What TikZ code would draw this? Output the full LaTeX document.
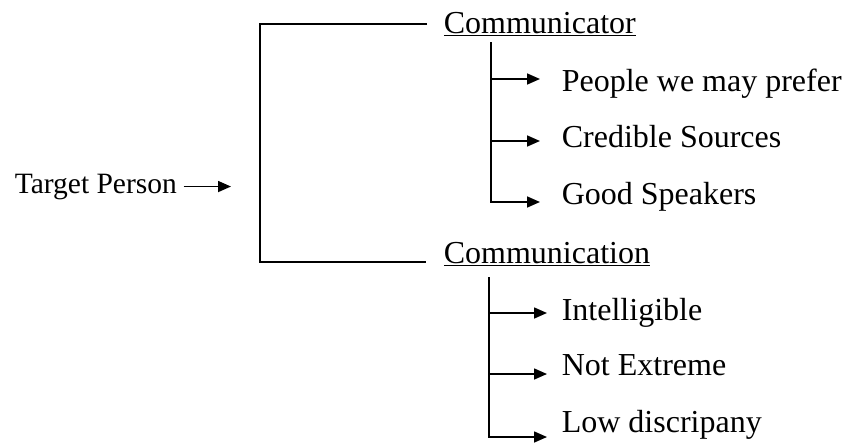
\documentclass[tikz,border=0pt]{standalone}
\usepackage{fontspec}
\setmainfont{Liberation Serif}
\usetikzlibrary{arrows.meta}
\begin{document}
\begin{tikzpicture}[x=1pt,y=-1pt,line width=1.6pt,
  lbl/.style={anchor=base west,inner sep=0pt,font=\fontsize{32}{38}\selectfont},
  arr/.style={-{Triangle[length=13pt,width=11pt]}}]
\useasboundingbox (0,0) rectangle (843,442);
% labels
\node[lbl,font=\fontsize{29.5}{35}\selectfont] (tp) at (14,193) {Target Person};
\node[lbl] (cr) at (443,33) {\underline{Communicator}};
\node[lbl] (ca) at (443,263) {\underline{Communication}};
\node[lbl] (p1) at (561,91) {People we may prefer};
\node[lbl] (p2) at (561,147) {Credible Sources};
\node[lbl] (p3) at (561,204) {Good Speakers};
\node[lbl] (q1) at (561,320) {Intelligible};
\node[lbl] (q2) at (561,375) {Not Extreme};
\node[lbl] (q3) at (561,432) {Low discripany};
% bracket
\coordinate (br) at (231,186);
\coordinate (t1) at (427,24);
\coordinate (bt) at (260,24);
\coordinate (bb) at (260,262);
\coordinate (t2) at (426,262);
\draw[arr] ([xshift=6pt]tp.east) -- (tp.east -| br);
\draw (t1) -- (bt) -- (bb) -- (t2);
% communicator branches
\coordinate (v1) at (491,42);
\coordinate (a1) at (540,79);
\coordinate (a2) at (540,141);
\coordinate (a3) at (540,202);
\draw[arr] (v1 |- a1) -- (a1);
\draw[arr] (v1 |- a2) -- (a2);
\draw[arr] (v1) |- (a3);
% communication branches
\coordinate (v2) at (489,277);
\coordinate (b1) at (547,313);
\coordinate (b2) at (547,374);
\coordinate (b3) at (547,437);
\draw[arr] (v2 |- b1) -- (b1);
\draw[arr] (v2 |- b2) -- (b2);
\draw[arr] (v2) |- (b3);
\end{tikzpicture}
\end{document}
